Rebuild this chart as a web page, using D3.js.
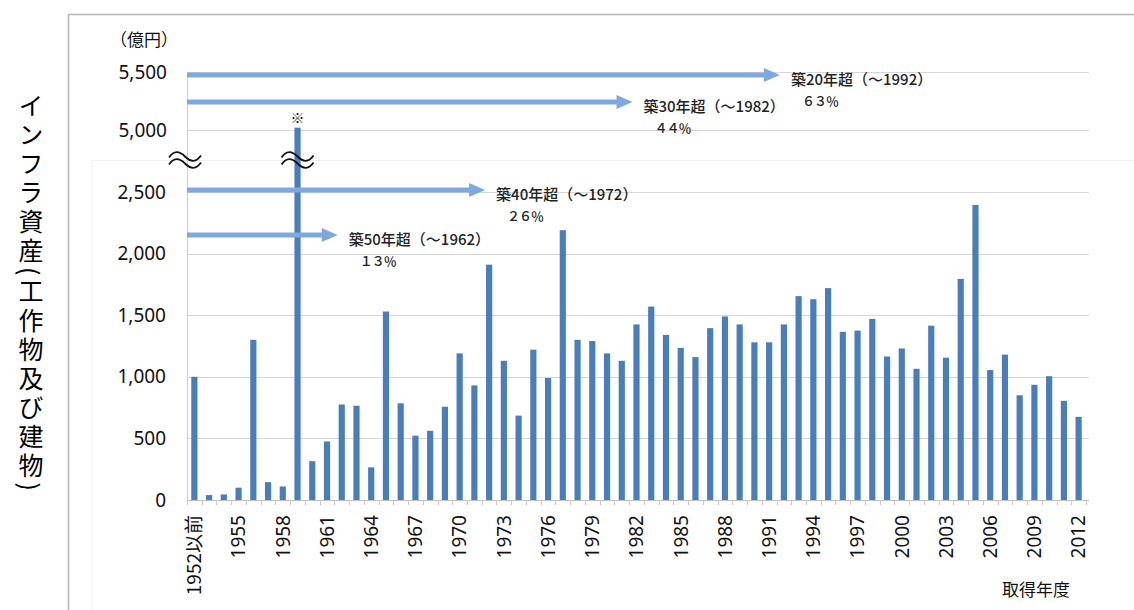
<!DOCTYPE html>
<html>
<head>
<meta charset="utf-8">
<script src="https://cdn.jsdelivr.net/npm/d3@7"></script>
<style>
  body { margin: 0; background: #fff; }
  svg { display: block; }
  text { font-family: "Noto Sans", "Noto Sans CJK JP", sans-serif; fill: #111; }
  .jp { font-family: "Noto Sans CJK JP", sans-serif; }
</style>
</head>
<body>
<div id="chart"></div>
<script>
// acquisition years (categories)
const categories = ["1952以前","1953","1954","1955","1956","1957","1958","1959","1960","1961",
  "1962","1963","1964","1965","1966","1967","1968","1969","1970","1971",
  "1972","1973","1974","1975","1976","1977","1978","1979","1980","1981",
  "1982","1983","1984","1985","1986","1987","1988","1989","1990","1991",
  "1992","1993","1994","1995","1996","1997","1998","1999","2000","2001",
  "2002","2003","2004","2005","2006","2007","2008","2009","2010","2011","2012"];

// infrastructure assets (億円) per year
const values = [1000,40,45,100,1300,145,110,5020,315,475,
  775,765,265,1530,785,522,562,757,1190,930,
  1910,1130,685,1220,990,2190,1300,1290,1190,1130,
  1425,1570,1340,1235,1160,1395,1490,1425,1280,1280,
  1425,1655,1630,1720,1365,1375,1470,1165,1230,1065,
  1415,1155,1795,2395,1055,1180,850,935,1005,805,675];

const xTickLabels = ["1952以前","1955","1958","1961","1964","1967","1970","1973","1976","1979",
  "1982","1985","1988","1991","1994","1997","2000","2003","2006","2009","2012"];
const yTicksLow = [0, 500, 1000, 1500, 2000, 2500];
const yTicksHigh = [5000, 5500];

// age bands: label, last year, share
const ageLabels = ["築20年超（～1992）","築30年超（～1982）","築40年超（～1972）","築50年超（～1962）"];
const ageEndYears = ["1992","1982","1972","1962"];
const ageShares = ["６３％","４４％","２６％","１３％"];
const ageLevels = [5475, 5240, 2515, 2150];   // value level of each arrow

const W = 1134, H = 610;
const svg = d3.select("#chart").append("svg")
  .attr("width", W).attr("height", H);

// outer frame (top + left only, like the clipped picture)
svg.append("line").attr("x1", 68).attr("x2", W).attr("y1", 14.5).attr("y2", 14.5)
  .attr("stroke", "#b5b5b5").attr("stroke-width", 1.5);
svg.append("line").attr("x1", 68.5).attr("x2", 68.5).attr("y1", 14).attr("y2", H)
  .attr("stroke", "#b5b5b5").attr("stroke-width", 1.5);
// faint inner box edge
svg.append("path").attr("d", "M92,610V160.5H1134")
  .attr("fill", "none").attr("stroke", "#efefef");

const x = d3.scaleBand().domain(categories).range([187, 1086])
  .paddingInner(0.58).paddingOuter(0.29);
const yLow = d3.scaleLinear().domain([0, 2500]).range([500, 192]);
const yHigh = d3.scaleLinear().domain([5000, 5500]).range([130, 72]);
const yv = v => v > 4000 ? yHigh(v) : yLow(v);
const step = x.step();
const xc = d => x(d) + x.bandwidth() / 2;

// gridlines
const grid = svg.append("g");
yTicksLow.concat(yTicksHigh).forEach(t => {
  grid.append("line").attr("x1", 187).attr("x2", 1089)
    .attr("y1", Math.round(yv(t)) + 0.5).attr("y2", Math.round(yv(t)) + 0.5)
    .attr("stroke", t === 0 ? "#bfbfbf" : "#d6d6d6").attr("stroke-width", 1.2);
});
// y axis line
svg.append("line").attr("x1", 187.5).attr("x2", 187.5).attr("y1", yHigh(5500)).attr("y2", 500)
  .attr("stroke", "#cfcfcf").attr("stroke-width", 1.2);

// y tick labels
const yl = svg.append("g");
yTicksLow.forEach(t => {
  yl.append("text").attr("x", 166).attr("y", yLow(t)).attr("dy", "0.35em")
    .attr("text-anchor", "end").style("font-size", "19px").text(d3.format(",")(t));
});
yTicksHigh.forEach(t => {
  yl.append("text").attr("x", 167).attr("y", yHigh(t)).attr("dy", "0.35em")
    .attr("text-anchor", "end").style("font-size", "19px").text(d3.format(",")(t));
});

// x ticks at band boundaries
const xt = svg.append("g");
categories.forEach(c => {
  const bx = Math.round(x(c) - step * 0.29) + 0.5;
  xt.append("line").attr("x1", bx).attr("x2", bx).attr("y1", 500).attr("y2", 505)
    .attr("stroke", "#c8c8c8");
});
const lastX = Math.round(x(categories[categories.length - 1]) + x.bandwidth() + step * 0.29) + 0.5;
xt.append("line").attr("x1", lastX).attr("x2", lastX).attr("y1", 500).attr("y2", 505)
  .attr("stroke", "#c8c8c8");

// bars
svg.append("g").selectAll("rect")
  .data(categories.map((c, i) => ({c: c, v: values[i]})))
  .enter().append("rect")
    .attr("x", d => x(d.c))
    .attr("width", x.bandwidth())
    .attr("y", d => yv(d.v))
    .attr("height", d => 500 - yv(d.v))
    .attr("fill", "#4a7ebb");

// x tick labels (rotated)
xTickLabels.forEach(l => {
  svg.append("text")
    .attr("transform", `translate(${xc(l)},515) rotate(-90)`)
    .attr("dy", "0.36em").attr("text-anchor", "end")
    .attr("class", l.length > 4 ? "jp" : null)
    .style("font-size", "19px").text(l);
});

// age arrows
const arrowCol = "#7ea9de";
ageLabels.forEach((lab, i) => {
  const yy = Math.round(yv(ageLevels[i]));
  const tip = xc(ageEndYears[i]) - 4;
  svg.append("line").attr("x1", 187).attr("x2", tip - 14).attr("y1", yy).attr("y2", yy)
    .attr("stroke", arrowCol).attr("stroke-width", 5);
  svg.append("path")
    .attr("d", `M${tip - 16},${yy - 7}L${tip},${yy}L${tip - 16},${yy + 7}Z`)
    .attr("fill", arrowCol);
  svg.append("text").attr("class", "jp").attr("x", tip + 11).attr("y", yy + 10)
    .style("font-size", "15px").style("font-weight", "500").style("fill", "#222").text(lab);
  svg.append("text").attr("class", "jp").attr("x", tip + 22).attr("y", yy + 31)
    .style("font-size", "13px").style("font-weight", "500").style("fill", "#222")
    .style("letter-spacing", "-1px").text(ageShares[i]);
});

// break marks and note
const breakY = 160;
[185, xc("1959")].forEach(bx => {
  [-3.5, 3.5].forEach(off => {
    svg.append("path")
      .attr("d", `M${bx - 16},${breakY + off + 1}c5,-7 10,-7 16,-1s11,6 16,-1`)
      .attr("fill", "none").attr("stroke", "#111").attr("stroke-width", 1.8);
  });
});
svg.append("text").attr("class", "jp").attr("x", xc("1959")).attr("y", 123)
  .attr("text-anchor", "middle").style("font-size", "14px").text("※");

// unit, axis titles
svg.append("text").attr("class", "jp").attr("x", 110).attr("y", 46)
  .style("font-size", "17px").text("（億円）");
svg.append("text").attr("class", "jp").attr("x", 1070).attr("y", 596)
  .attr("text-anchor", "end").style("font-size", "17px").text("取得年度");
svg.append("text").attr("class", "jp")
  .attr("x", 31).attr("y", 93)
  .style("writing-mode", "vertical-rl")
  .style("font-size", "25px").style("letter-spacing", "4px").style("fill", "#000")
  .text("インフラ資産(工作物及び建物)");
</script>
</body>
</html>
